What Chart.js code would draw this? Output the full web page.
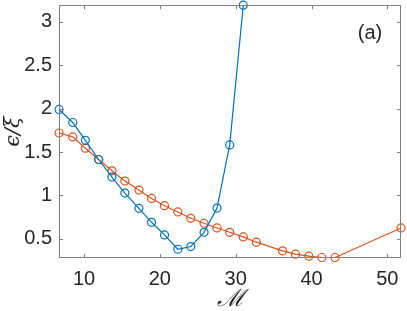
<!DOCTYPE html>
<html>
<head>
<meta charset="utf-8">
<script src="https://cdn.jsdelivr.net/npm/chart.js@4.4.0/dist/chart.umd.min.js"></script>
<style>
html,body{margin:0;padding:0;background:#fff;}
#wrap{width:407px;height:311px;position:relative;}
</style>
</head>
<body>
<div id="wrap"><canvas id="c" width="407" height="311"></canvas></div>
<script>
const blueX = [6.71, 8.51, 10.18, 11.93, 13.68, 15.39, 17.24, 18.9, 20.61, 22.37, 24.08, 25.83, 27.54, 29.21, 31.0];
const blueY = [1.99, 1.84, 1.635, 1.414, 1.211, 1.027, 0.852, 0.691, 0.546, 0.381, 0.412, 0.576, 0.855, 1.582, 3.19];
const orangeX = [6.71, 8.51, 10.18, 11.93, 13.68, 15.39, 17.24, 18.9, 20.61, 22.37, 24.08, 25.83, 27.54, 29.21, 31.0, 32.72, 36.18, 37.89, 39.65, 41.36, 43.11, 51.8];
const orangeY = [1.719, 1.674, 1.544, 1.414, 1.284, 1.165, 1.062, 0.966, 0.882, 0.81, 0.737, 0.68, 0.626, 0.576, 0.523, 0.462, 0.362, 0.324, 0.301, 0.286, 0.286, 0.626];
const xTicks = [10, 20, 30, 40, 50];
const yTicks = [0.5, 1, 1.5, 2, 2.5, 3];
const xLabel = '\u2133';
const yLabel = '\u03F5/\u03BE';
const panelLabel = '(a)';

const pts = (xs, ys) => xs.map((x, i) => ({x: x, y: ys[i]}));
const BLUE = '#0072BD', ORANGE = '#D95319';
const AXC = '#262626';

const framePlugin = {
  id: 'frame',
  afterDraw(chart) {
    const {ctx, chartArea: a, scales} = chart;
    ctx.save();
    ctx.strokeStyle = '#808080';
    ctx.lineWidth = 1;
    ctx.strokeRect(Math.round(a.left) + 0.5, Math.round(a.top) + 0.5, Math.round(a.right - a.left) - 1, Math.round(a.bottom - a.top) - 1);
    const tl = 4;
    ctx.beginPath();
    scales.x.ticks.forEach(t => {
      const px = Math.round(scales.x.getPixelForValue(t.value)) + 0.5;
      ctx.moveTo(px, a.bottom); ctx.lineTo(px, a.bottom - tl);
      ctx.moveTo(px, a.top); ctx.lineTo(px, a.top + tl);
    });
    scales.y.ticks.forEach(t => {
      const py = Math.round(scales.y.getPixelForValue(t.value)) + 0.5;
      ctx.moveTo(a.left, py); ctx.lineTo(a.left + tl, py);
      ctx.moveTo(a.right, py); ctx.lineTo(a.right - tl, py);
    });
    ctx.stroke();
    // labels
    ctx.fillStyle = AXC;
    ctx.textAlign = 'center';
    ctx.textBaseline = 'middle';
    ctx.font = '20px "Liberation Sans", Arial, sans-serif';
    ctx.fillText(panelLabel, 370, 33);
    ctx.font = 'italic 24px "DejaVu Serif", serif';
    ctx.fillText(xLabel, 231, 300);
    ctx.save();
    ctx.translate(14, (a.top + a.bottom) / 2);
    ctx.rotate(-Math.PI / 2);
    ctx.font = 'italic 21px "DejaVu Serif", serif';
    ctx.fillText(yLabel, 0, 0);
    ctx.restore();
    ctx.restore();
  }
};

new Chart(document.getElementById('c'), {
  type: 'scatter',
  data: {
    datasets: [
      {data: pts(blueX, blueY), showLine: true, borderColor: BLUE, backgroundColor: 'rgba(0,0,0,0)', pointBorderColor: BLUE, pointBackgroundColor: 'rgba(0,0,0,0)', borderWidth: 1.2, pointRadius: 4, pointBorderWidth: 1.2, clip: false},
      {data: pts(orangeX, orangeY), showLine: true, borderColor: ORANGE, backgroundColor: 'rgba(0,0,0,0)', pointBorderColor: ORANGE, pointBackgroundColor: 'rgba(0,0,0,0)', borderWidth: 1.2, pointRadius: 4, pointBorderWidth: 1.2, clip: false}
    ]
  },
  options: {
    responsive: false,
    animation: false,
    layout: {padding: {left: 0, right: 6, top: 5, bottom: 0}},
    plugins: {legend: {display: false}, tooltip: {enabled: false}},
    scales: {
      x: {
        type: 'linear', min: 6.7, max: 51.8,
        grid: {display: false, drawTicks: false},
        border: {display: false},
        afterBuildTicks: s => { s.ticks = xTicks.map(v => ({value: v})); },
        afterFit: s => { s.height = 53; s.paddingLeft = 0; s.paddingRight = 0; },
        ticks: {color: AXC, font: {family: '"Liberation Sans", Arial, sans-serif', size: 20}, padding: 9, maxRotation: 0, callback: v => String(v)}
      },
      y: {
        type: 'linear', min: 0.28, max: 3.19,
        grid: {display: false, drawTicks: false},
        border: {display: false},
        afterBuildTicks: s => { s.ticks = yTicks.map(v => ({value: v})); },
        afterFit: s => { s.width = 59; s.paddingTop = 0; s.paddingBottom = 0; },
        ticks: {color: AXC, font: {family: '"Liberation Sans", Arial, sans-serif', size: 20}, padding: 7, callback: v => String(v)}
      }
    }
  },
  plugins: [framePlugin]
});
</script>
</body>
</html>
